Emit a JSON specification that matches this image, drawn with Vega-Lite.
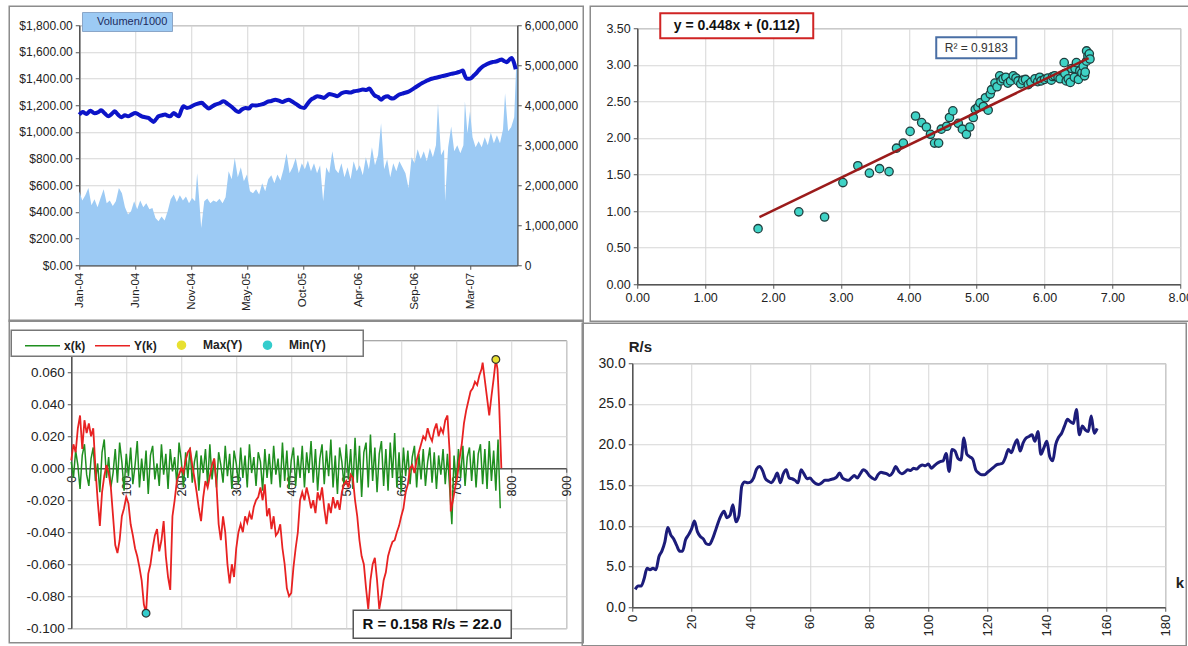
{
  "$schema": "https://vega.github.io/schema/vega-lite/v6.json",
  "background": "white",
  "padding": {"left": 7.25, "top": 4.25, "right": 0, "bottom": 0},
  "columns": 3,
  "align": "none",
  "spacing": {"row": -38, "column": -40},
  "config": {
    "font": "Liberation Sans",
    "view": {"stroke": "#8c8c8c", "strokeWidth": 1},
    "axis": {
      "labelFont": "Liberation Sans", "labelColor": "#222222", "labelFontSize": 12,
      "domainColor": "#555555", "domainWidth": 1.5, "tickColor": "#555555", "tickSize": 4,
      "gridColor": "#d6d6d6", "gridWidth": 1, "labelPadding": 3,
      "labelFlush": false, "labelOverlap": false, "tickCount": 20
    },
    "legend": {"labelFont": "Liberation Sans"},
    "text": {"font": "Liberation Sans"}
  },
  "datasets": {
    "volume": [
      {"d":0,"v":1850000},{"d":6,"v":1620000},{"d":12,"v":1750000},{"d":18,"v":1930000},{"d":24,"v":1500000},{"d":30,"v":1650000},
      {"d":36,"v":1450000},{"d":42,"v":1680000},{"d":48,"v":1900000},{"d":54,"v":1550000},{"d":60,"v":1620000},{"d":66,"v":1480000},
      {"d":72,"v":1600000},{"d":78,"v":1930000},{"d":84,"v":1800000},{"d":90,"v":1450000},{"d":96,"v":1270000},{"d":102,"v":1350000},
      {"d":108,"v":1600000},{"d":114,"v":1400000},{"d":120,"v":1620000},{"d":126,"v":1450000},{"d":132,"v":1550000},{"d":138,"v":1400000},
      {"d":144,"v":1430000},{"d":150,"v":1180000},{"d":156,"v":1100000},{"d":162,"v":1220000},{"d":168,"v":1120000},{"d":174,"v":1350000},
      {"d":180,"v":1650000},{"d":186,"v":1770000},{"d":192,"v":1580000},{"d":198,"v":1750000},{"d":204,"v":1620000},{"d":210,"v":1720000},
      {"d":216,"v":1550000},{"d":222,"v":1680000},{"d":228,"v":1600000},{"d":232,"v":2300000},{"d":236,"v":1650000},{"d":240,"v":930000},
      {"d":246,"v":1600000},{"d":252,"v":1670000},{"d":258,"v":1550000},{"d":264,"v":1620000},{"d":270,"v":1580000},{"d":276,"v":1660000},
      {"d":282,"v":1550000},{"d":288,"v":1700000},{"d":294,"v":2350000},{"d":300,"v":2150000},{"d":306,"v":2680000},{"d":312,"v":2200000},
      {"d":318,"v":2450000},{"d":324,"v":2100000},{"d":330,"v":2270000},{"d":336,"v":1850000},{"d":342,"v":1800000},{"d":348,"v":1900000},
      {"d":354,"v":1770000},{"d":360,"v":2050000},{"d":366,"v":1850000},{"d":372,"v":2150000},{"d":378,"v":2250000},{"d":384,"v":2050000},
      {"d":390,"v":2270000},{"d":396,"v":2120000},{"d":402,"v":2400000},{"d":408,"v":2800000},{"d":414,"v":2300000},{"d":420,"v":2450000},
      {"d":426,"v":2680000},{"d":432,"v":2300000},{"d":438,"v":2550000},{"d":444,"v":2400000},{"d":450,"v":2620000},{"d":456,"v":2350000},
      {"d":462,"v":2550000},{"d":468,"v":2300000},{"d":474,"v":2500000},{"d":480,"v":1600000},{"d":486,"v":2450000},{"d":492,"v":2300000},
      {"d":498,"v":2850000},{"d":504,"v":2400000},{"d":510,"v":2300000},{"d":516,"v":2550000},{"d":522,"v":2200000},{"d":528,"v":2450000},
      {"d":534,"v":2150000},{"d":540,"v":2600000},{"d":546,"v":2350000},{"d":552,"v":2500000},{"d":558,"v":2250000},{"d":564,"v":2700000},
      {"d":570,"v":2400000},{"d":576,"v":2950000},{"d":582,"v":2500000},{"d":588,"v":2750000},{"d":594,"v":3550000},{"d":600,"v":2400000},
      {"d":606,"v":2650000},{"d":612,"v":2200000},{"d":618,"v":2550000},{"d":624,"v":2350000},{"d":630,"v":2600000},{"d":636,"v":2450000},
      {"d":642,"v":2300000},{"d":648,"v":1930000},{"d":654,"v":2700000},{"d":660,"v":2550000},{"d":666,"v":2900000},{"d":672,"v":2650000},
      {"d":678,"v":2850000},{"d":684,"v":2600000},{"d":690,"v":2930000},{"d":696,"v":2700000},{"d":702,"v":3000000},{"d":706,"v":4050000},
      {"d":712,"v":2750000},{"d":718,"v":2900000},{"d":720,"v":1600000},{"d":726,"v":2950000},{"d":732,"v":3470000},{"d":738,"v":2850000},
      {"d":744,"v":3000000},{"d":750,"v":2800000},{"d":756,"v":3000000},{"d":759,"v":4100000},{"d":764,"v":3300000},{"d":769,"v":3850000},
      {"d":774,"v":3200000},{"d":780,"v":2950000},{"d":786,"v":3100000},{"d":792,"v":2950000},{"d":798,"v":3200000},{"d":804,"v":3000000},
      {"d":810,"v":3320000},{"d":816,"v":3050000},{"d":822,"v":3250000},{"d":828,"v":3050000},{"d":834,"v":3400000},{"d":838,"v":4300000},
      {"d":844,"v":3350000},{"d":850,"v":3450000},{"d":856,"v":3700000},{"d":860,"v":5000000},{"d":862,"v":5000000}
    ],
    "price": [
      {"d":0,"p":1130},{"d":7,"p":1150},{"d":14,"p":1135},{"d":22,"p":1158},{"d":30,"p":1140},{"d":38,"p":1150},{"d":43,"p":1162},
      {"d":50,"p":1140},{"d":57,"p":1117},{"d":64,"p":1135},{"d":70,"p":1155},{"d":76,"p":1130},{"d":83,"p":1110},{"d":90,"p":1125},
      {"d":96,"p":1117},{"d":103,"p":1130},{"d":110,"p":1142},{"d":116,"p":1132},{"d":123,"p":1117},{"d":130,"p":1110},{"d":136,"p":1105},
      {"d":141,"p":1090},{"d":146,"p":1075},{"d":151,"p":1095},{"d":156,"p":1117},{"d":163,"p":1125},{"d":169,"p":1130},{"d":174,"p":1122},
      {"d":179,"p":1117},{"d":186,"p":1142},{"d":191,"p":1128},{"d":196,"p":1117},{"d":201,"p":1165},{"d":205,"p":1192},{"d":212,"p":1180},
      {"d":218,"p":1185},{"d":225,"p":1200},{"d":232,"p":1210},{"d":241,"p":1218},{"d":248,"p":1195},{"d":255,"p":1175},{"d":262,"p":1192},
      {"d":268,"p":1205},{"d":276,"p":1215},{"d":284,"p":1230},{"d":292,"p":1210},{"d":301,"p":1185},{"d":308,"p":1160},{"d":314,"p":1150},
      {"d":320,"p":1168},{"d":327,"p":1180},{"d":334,"p":1175},{"d":340,"p":1200},{"d":348,"p":1198},{"d":357,"p":1205},{"d":364,"p":1212},
      {"d":370,"p":1225},{"d":378,"p":1232},{"d":386,"p":1242},{"d":393,"p":1235},{"d":400,"p":1225},{"d":406,"p":1235},{"d":412,"p":1242},
      {"d":418,"p":1230},{"d":423,"p":1218},{"d":430,"p":1200},{"d":436,"p":1185},{"d":443,"p":1180},{"d":449,"p":1210},{"d":456,"p":1242},
      {"d":462,"p":1255},{"d":469,"p":1268},{"d":476,"p":1262},{"d":482,"p":1255},{"d":487,"p":1270},{"d":492,"p":1285},{"d":500,"p":1278},
      {"d":508,"p":1268},{"d":516,"p":1290},{"d":525,"p":1300},{"d":533,"p":1295},{"d":541,"p":1305},{"d":550,"p":1310},{"d":558,"p":1318},
      {"d":565,"p":1315},{"d":571,"p":1325},{"d":576,"p":1300},{"d":581,"p":1275},{"d":588,"p":1262},{"d":594,"p":1242},{"d":600,"p":1260},
      {"d":607,"p":1268},{"d":612,"p":1255},{"d":617,"p":1250},{"d":624,"p":1265},{"d":630,"p":1280},{"d":638,"p":1290},{"d":647,"p":1300},
      {"d":654,"p":1315},{"d":660,"p":1330},{"d":668,"p":1350},{"d":676,"p":1368},{"d":682,"p":1380},{"d":689,"p":1393},{"d":697,"p":1402},
      {"d":706,"p":1410},{"d":714,"p":1418},{"d":722,"p":1425},{"d":732,"p":1435},{"d":742,"p":1443},{"d":749,"p":1452},{"d":755,"p":1460},
      {"d":758,"p":1430},{"d":762,"p":1400},{"d":767,"p":1398},{"d":772,"p":1405},{"d":777,"p":1425},{"d":782,"p":1443},{"d":788,"p":1470},
      {"d":795,"p":1493},{"d":801,"p":1505},{"d":808,"p":1518},{"d":815,"p":1525},{"d":822,"p":1530},{"d":827,"p":1538},{"d":831,"p":1543},
      {"d":836,"p":1532},{"d":841,"p":1523},{"d":846,"p":1540},{"d":851,"p":1555},{"d":855,"p":1525},{"d":859,"p":1470}
    ],
    "scatter": [
      {"x":1.78,"y":0.76},{"x":2.38,"y":0.99},{"x":2.76,"y":0.92},{"x":3.03,"y":1.39},{"x":3.25,"y":1.62},{"x":3.42,"y":1.52},
      {"x":3.57,"y":1.58},{"x":3.71,"y":1.54},{"x":3.82,"y":1.86},{"x":3.92,"y":1.93},{"x":4.02,"y":2.09},{"x":4.10,"y":2.30},
      {"x":4.19,"y":2.21},{"x":4.26,"y":2.15},{"x":4.32,"y":2.05},{"x":4.38,"y":1.93},{"x":4.44,"y":1.93},{"x":4.48,"y":2.12},
      {"x":4.56,"y":2.16},{"x":4.60,"y":2.28},{"x":4.65,"y":2.37},{"x":4.73,"y":2.20},{"x":4.79,"y":2.12},{"x":4.85,"y":2.05},
      {"x":4.90,"y":2.15},{"x":4.95,"y":2.28},{"x":4.98,"y":2.39},{"x":5.02,"y":2.42},{"x":5.05,"y":2.48},{"x":5.10,"y":2.43},
      {"x":5.13,"y":2.55},{"x":5.17,"y":2.38},{"x":5.20,"y":2.60},{"x":5.22,"y":2.66},{"x":5.27,"y":2.75},{"x":5.30,"y":2.70},
      {"x":5.34,"y":2.85},{"x":5.36,"y":2.78},{"x":5.39,"y":2.81},{"x":5.43,"y":2.83},{"x":5.46,"y":2.75},{"x":5.50,"y":2.78},
      {"x":5.54,"y":2.85},{"x":5.58,"y":2.82},{"x":5.61,"y":2.78},{"x":5.65,"y":2.74},{"x":5.68,"y":2.79},{"x":5.72,"y":2.80},
      {"x":5.76,"y":2.73},{"x":5.80,"y":2.76},{"x":5.86,"y":2.81},{"x":5.90,"y":2.77},{"x":5.93,"y":2.83},{"x":5.95,"y":2.78},
      {"x":6.00,"y":2.80},{"x":6.05,"y":2.82},{"x":6.10,"y":2.79},{"x":6.12,"y":2.84},{"x":6.15,"y":2.85},{"x":6.20,"y":2.83},
      {"x":6.23,"y":2.81},{"x":6.29,"y":3.03},{"x":6.30,"y":2.88},{"x":6.32,"y":2.78},{"x":6.35,"y":2.81},{"x":6.38,"y":2.76},
      {"x":6.40,"y":2.95},{"x":6.44,"y":2.83},{"x":6.45,"y":2.95},{"x":6.47,"y":3.03},{"x":6.50,"y":2.80},{"x":6.52,"y":2.92},
      {"x":6.55,"y":2.89},{"x":6.57,"y":2.98},{"x":6.59,"y":2.85},{"x":6.60,"y":2.90},{"x":6.62,"y":3.05},{"x":6.62,"y":3.19},
      {"x":6.64,"y":3.12},{"x":6.66,"y":3.15},{"x":6.67,"y":3.08}
    ],
    "trend": [{"x":1.8,"y":0.918},{"x":6.65,"y":3.091}],
    "xk": [
      {"k":0,"xk":0.004},{"k":4,"xk":-0.006},{"k":8,"xk":0.011},{"k":12,"xk":0.002},{"k":16,"xk":-0.013},{"k":20,"xk":0.008},
      {"k":24,"xk":0.015},{"k":28,"xk":-0.004},{"k":32,"xk":-0.011},{"k":36,"xk":0.006},{"k":40,"xk":0.013},{"k":44,"xk":-0.008},
      {"k":48,"xk":0.003},{"k":52,"xk":-0.015},{"k":56,"xk":0.010},{"k":60,"xk":0.018},{"k":64,"xk":-0.006},{"k":68,"xk":0.007},
      {"k":72,"xk":-0.012},{"k":76,"xk":-0.003},{"k":80,"xk":0.012},{"k":84,"xk":-0.009},{"k":88,"xk":0.016},{"k":92,"xk":0.004},
      {"k":96,"xk":-0.014},{"k":100,"xk":0.009},{"k":104,"xk":-0.005},{"k":108,"xk":0.013},{"k":112,"xk":-0.010},{"k":116,"xk":0.002},
      {"k":120,"xk":0.017},{"k":124,"xk":-0.012},{"k":128,"xk":0.006},{"k":132,"xk":-0.008},{"k":136,"xk":0.011},{"k":140,"xk":-0.016},
      {"k":144,"xk":0.008},{"k":148,"xk":0.014},{"k":152,"xk":-0.007},{"k":156,"xk":0.003},{"k":160,"xk":-0.011},{"k":164,"xk":0.015},
      {"k":168,"xk":-0.004},{"k":172,"xk":0.009},{"k":176,"xk":-0.013},{"k":180,"xk":0.012},{"k":184,"xk":-0.002},{"k":188,"xk":0.007},
      {"k":192,"xk":-0.010},{"k":196,"xk":0.016},{"k":200,"xk":0.005},{"k":204,"xk":-0.012},{"k":208,"xk":0.010},{"k":212,"xk":-0.006},
      {"k":216,"xk":0.013},{"k":220,"xk":-0.009},{"k":224,"xk":0.004},{"k":228,"xk":0.011},{"k":232,"xk":-0.014},{"k":236,"xk":0.008},
      {"k":240,"xk":-0.003},{"k":244,"xk":0.012},{"k":248,"xk":-0.010},{"k":252,"xk":0.015},{"k":256,"xk":-0.007},{"k":260,"xk":0.006},
      {"k":264,"xk":-0.012},{"k":268,"xk":0.010},{"k":272,"xk":0.002},{"k":276,"xk":-0.009},{"k":280,"xk":0.014},{"k":284,"xk":-0.005},
      {"k":288,"xk":0.009},{"k":292,"xk":-0.013},{"k":296,"xk":0.011},{"k":300,"xk":0.003},{"k":304,"xk":-0.010},{"k":308,"xk":0.013},
      {"k":312,"xk":-0.006},{"k":316,"xk":0.008},{"k":320,"xk":-0.012},{"k":324,"xk":0.015},{"k":328,"xk":-0.003},{"k":332,"xk":0.007},
      {"k":336,"xk":-0.011},{"k":340,"xk":0.010},{"k":344,"xk":0.004},{"k":348,"xk":-0.014},{"k":352,"xk":0.012},{"k":356,"xk":-0.006},
      {"k":360,"xk":0.009},{"k":364,"xk":-0.010},{"k":368,"xk":0.014},{"k":372,"xk":-0.004},{"k":376,"xk":0.006},{"k":380,"xk":-0.012},
      {"k":384,"xk":0.016},{"k":388,"xk":-0.008},{"k":392,"xk":0.011},{"k":396,"xk":-0.013},{"k":400,"xk":0.005},{"k":404,"xk":0.013},
      {"k":408,"xk":-0.011},{"k":412,"xk":0.008},{"k":416,"xk":-0.006},{"k":420,"xk":0.014},{"k":424,"xk":-0.012},{"k":428,"xk":0.010},
      {"k":432,"xk":-0.003},{"k":436,"xk":0.017},{"k":440,"xk":-0.009},{"k":444,"xk":0.012},{"k":448,"xk":-0.014},{"k":452,"xk":0.006},
      {"k":456,"xk":0.015},{"k":460,"xk":-0.010},{"k":464,"xk":0.011},{"k":468,"xk":-0.005},{"k":472,"xk":0.018},{"k":476,"xk":-0.012},
      {"k":480,"xk":0.008},{"k":484,"xk":-0.016},{"k":488,"xk":0.013},{"k":492,"xk":0.004},{"k":496,"xk":-0.011},{"k":500,"xk":0.015},
      {"k":504,"xk":-0.007},{"k":508,"xk":0.012},{"k":512,"xk":-0.013},{"k":516,"xk":0.019},{"k":520,"xk":-0.009},{"k":524,"xk":0.014},
      {"k":528,"xk":-0.018},{"k":532,"xk":0.010},{"k":536,"xk":0.016},{"k":540,"xk":-0.012},{"k":544,"xk":0.021},{"k":548,"xk":-0.008},
      {"k":552,"xk":0.013},{"k":556,"xk":-0.015},{"k":560,"xk":0.009},{"k":564,"xk":0.017},{"k":568,"xk":-0.011},{"k":572,"xk":0.012},
      {"k":576,"xk":-0.014},{"k":580,"xk":0.016},{"k":584,"xk":-0.006},{"k":588,"xk":0.022},{"k":592,"xk":-0.012},{"k":596,"xk":0.010},
      {"k":600,"xk":-0.015},{"k":604,"xk":0.013},{"k":608,"xk":-0.005},{"k":612,"xk":0.011},{"k":616,"xk":-0.010},{"k":620,"xk":0.007},
      {"k":624,"xk":0.014},{"k":628,"xk":-0.012},{"k":632,"xk":0.009},{"k":636,"xk":-0.007},{"k":640,"xk":0.012},{"k":644,"xk":-0.011},
      {"k":648,"xk":0.004},{"k":652,"xk":0.013},{"k":656,"xk":-0.009},{"k":660,"xk":0.010},{"k":664,"xk":-0.013},{"k":668,"xk":0.008},
      {"k":672,"xk":-0.004},{"k":676,"xk":0.012},{"k":680,"xk":-0.010},{"k":684,"xk":0.009},{"k":688,"xk":-0.012},{"k":692,"xk":-0.035},
      {"k":696,"xk":0.008},{"k":700,"xk":-0.010},{"k":704,"xk":0.012},{"k":708,"xk":-0.006},{"k":712,"xk":0.014},{"k":716,"xk":-0.011},
      {"k":720,"xk":0.007},{"k":724,"xk":0.013},{"k":728,"xk":-0.008},{"k":732,"xk":0.011},{"k":736,"xk":-0.012},{"k":740,"xk":0.009},
      {"k":744,"xk":0.015},{"k":748,"xk":-0.010},{"k":752,"xk":0.012},{"k":756,"xk":-0.013},{"k":760,"xk":0.017},{"k":764,"xk":-0.008},
      {"k":768,"xk":0.011},{"k":772,"xk":-0.014},{"k":776,"xk":0.018},{"k":780,"xk":-0.025}
    ],
    "yk": [
      {"k":0,"yk":0.005},{"k":4,"yk":0.015},{"k":8,"yk":0.01},{"k":12,"yk":0.025},{"k":16,"yk":0.033},{"k":20,"yk":0.012},
      {"k":24,"yk":0.03},{"k":28,"yk":0.022},{"k":32,"yk":0.028},{"k":36,"yk":0.02},{"k":40,"yk":0.025},{"k":44,"yk":0.0},
      {"k":48,"yk":-0.02},{"k":52,"yk":-0.036},{"k":56,"yk":-0.015},{"k":60,"yk":-0.005},{"k":64,"yk":0.002},{"k":68,"yk":-0.003},
      {"k":72,"yk":-0.012},{"k":76,"yk":-0.03},{"k":80,"yk":-0.048},{"k":84,"yk":-0.053},{"k":88,"yk":-0.045},{"k":92,"yk":-0.03},
      {"k":96,"yk":-0.025},{"k":100,"yk":-0.018},{"k":104,"yk":-0.022},{"k":108,"yk":-0.035},{"k":112,"yk":-0.042},{"k":116,"yk":-0.05},
      {"k":120,"yk":-0.055},{"k":124,"yk":-0.062},{"k":128,"yk":-0.07},{"k":132,"yk":-0.085},{"k":136,"yk":-0.0906},{"k":140,"yk":-0.066},
      {"k":144,"yk":-0.06},{"k":148,"yk":-0.05},{"k":152,"yk":-0.042},{"k":156,"yk":-0.038},{"k":160,"yk":-0.052},{"k":164,"yk":-0.045},
      {"k":168,"yk":-0.033},{"k":172,"yk":-0.055},{"k":176,"yk":-0.068},{"k":180,"yk":-0.076},{"k":184,"yk":-0.03},{"k":188,"yk":-0.02},
      {"k":192,"yk":-0.008},{"k":196,"yk":-0.004},{"k":200,"yk":0.0},{"k":204,"yk":-0.003},{"k":208,"yk":0.005},{"k":212,"yk":0.01},
      {"k":216,"yk":0.012},{"k":220,"yk":0.002},{"k":224,"yk":-0.006},{"k":228,"yk":-0.015},{"k":232,"yk":-0.025},{"k":236,"yk":-0.033},
      {"k":240,"yk":-0.018},{"k":244,"yk":-0.008},{"k":248,"yk":-0.012},{"k":252,"yk":-0.005},{"k":256,"yk":0.002},{"k":260,"yk":0.006},
      {"k":264,"yk":-0.01},{"k":268,"yk":-0.035},{"k":272,"yk":-0.045},{"k":276,"yk":-0.03},{"k":280,"yk":-0.04},{"k":284,"yk":-0.06},
      {"k":288,"yk":-0.072},{"k":292,"yk":-0.06},{"k":296,"yk":-0.068},{"k":300,"yk":-0.05},{"k":304,"yk":-0.04},{"k":308,"yk":-0.035},
      {"k":312,"yk":-0.04},{"k":316,"yk":-0.03},{"k":320,"yk":-0.034},{"k":324,"yk":-0.028},{"k":328,"yk":-0.032},{"k":332,"yk":-0.024},
      {"k":336,"yk":-0.02},{"k":340,"yk":-0.018},{"k":344,"yk":-0.012},{"k":348,"yk":-0.02},{"k":352,"yk":-0.01},{"k":356,"yk":-0.03},
      {"k":360,"yk":-0.025},{"k":364,"yk":-0.038},{"k":368,"yk":-0.03},{"k":372,"yk":-0.042},{"k":376,"yk":-0.04},{"k":380,"yk":-0.035},
      {"k":384,"yk":-0.05},{"k":388,"yk":-0.06},{"k":392,"yk":-0.075},{"k":396,"yk":-0.08},{"k":400,"yk":-0.078},{"k":404,"yk":-0.062},
      {"k":408,"yk":-0.05},{"k":412,"yk":-0.04},{"k":416,"yk":-0.02},{"k":420,"yk":-0.015},{"k":424,"yk":-0.02},{"k":428,"yk":-0.012},
      {"k":432,"yk":-0.018},{"k":436,"yk":-0.025},{"k":440,"yk":-0.02},{"k":444,"yk":-0.028},{"k":448,"yk":-0.015},{"k":452,"yk":-0.02},
      {"k":456,"yk":-0.012},{"k":460,"yk":-0.025},{"k":464,"yk":-0.035},{"k":468,"yk":-0.022},{"k":472,"yk":-0.028},{"k":476,"yk":-0.018},
      {"k":480,"yk":-0.025},{"k":484,"yk":-0.02},{"k":488,"yk":-0.026},{"k":492,"yk":-0.015},{"k":496,"yk":-0.01},{"k":500,"yk":-0.008},
      {"k":504,"yk":-0.012},{"k":508,"yk":-0.004},{"k":512,"yk":-0.006},{"k":516,"yk":-0.02},{"k":520,"yk":-0.03},{"k":524,"yk":-0.045},
      {"k":528,"yk":-0.055},{"k":532,"yk":-0.06},{"k":536,"yk":-0.075},{"k":540,"yk":-0.088},{"k":544,"yk":-0.07},{"k":548,"yk":-0.06},
      {"k":552,"yk":-0.056},{"k":556,"yk":-0.07},{"k":560,"yk":-0.088},{"k":564,"yk":-0.08},{"k":568,"yk":-0.07},{"k":572,"yk":-0.065},
      {"k":576,"yk":-0.055},{"k":580,"yk":-0.05},{"k":584,"yk":-0.046},{"k":588,"yk":-0.045},{"k":592,"yk":-0.04},{"k":596,"yk":-0.036},
      {"k":600,"yk":-0.03},{"k":604,"yk":-0.025},{"k":608,"yk":-0.015},{"k":612,"yk":-0.01},{"k":616,"yk":0.0},{"k":620,"yk":0.002},
      {"k":624,"yk":-0.003},{"k":628,"yk":0.005},{"k":632,"yk":0.01},{"k":636,"yk":0.015},{"k":640,"yk":0.02},{"k":644,"yk":0.018},
      {"k":648,"yk":0.025},{"k":652,"yk":0.02},{"k":656,"yk":0.017},{"k":660,"yk":0.024},{"k":664,"yk":0.028},{"k":668,"yk":0.02},
      {"k":672,"yk":0.025},{"k":676,"yk":0.022},{"k":680,"yk":0.03},{"k":684,"yk":0.033},{"k":688,"yk":0.01},{"k":690,"yk":-0.027},
      {"k":694,"yk":-0.02},{"k":698,"yk":-0.012},{"k":702,"yk":-0.005},{"k":706,"yk":0.006},{"k":710,"yk":0.015},{"k":714,"yk":0.028},
      {"k":718,"yk":0.036},{"k":722,"yk":0.042},{"k":726,"yk":0.048},{"k":730,"yk":0.05},{"k":734,"yk":0.054},{"k":738,"yk":0.052},
      {"k":742,"yk":0.058},{"k":746,"yk":0.062},{"k":748,"yk":0.066},{"k":752,"yk":0.055},{"k":756,"yk":0.044},{"k":760,"yk":0.033},
      {"k":764,"yk":0.045},{"k":768,"yk":0.056},{"k":772,"yk":0.068},{"k":775,"yk":0.062},{"k":778,"yk":0.04},{"k":781,"yk":0.01},
      {"k":782,"yk":0.0}
    ],
    "extremes": [
      {"k":136,"yk":-0.0906,"s":"Min(Y)"},
      {"k":772,"yk":0.068,"s":"Max(Y)"}
    ],
    "rs": [
      {"k":1,"rs":2.2},{"k":2,"rs":2.6},{"k":3,"rs":2.6},{"k":4,"rs":3.5},{"k":5,"rs":4.8},{"k":6,"rs":4.6},{"k":7,"rs":4.8},
      {"k":8,"rs":4.6},{"k":9,"rs":6.2},{"k":10,"rs":6.9},{"k":11,"rs":8.0},{"k":12,"rs":9.8},{"k":13,"rs":8.9},{"k":14,"rs":8.4},
      {"k":15,"rs":7.6},{"k":16,"rs":6.9},{"k":17,"rs":6.9},{"k":18,"rs":8.3},{"k":19,"rs":8.9},{"k":20,"rs":9.6},{"k":21,"rs":10.6},
      {"k":22,"rs":9.3},{"k":23,"rs":8.7},{"k":24,"rs":8.4},{"k":25,"rs":7.8},{"k":26,"rs":7.7},{"k":27,"rs":8.3},{"k":28,"rs":9.3},
      {"k":29,"rs":10.4},{"k":30,"rs":11.3},{"k":31,"rs":11.8},{"k":32,"rs":11.0},{"k":33,"rs":11.3},{"k":34,"rs":12.6},{"k":35,"rs":10.5},
      {"k":36,"rs":11.2},{"k":37,"rs":14.9},{"k":38,"rs":15.4},{"k":39,"rs":15.3},{"k":40,"rs":15.4},{"k":41,"rs":15.9},{"k":42,"rs":17.0},
      {"k":43,"rs":17.3},{"k":44,"rs":16.8},{"k":45,"rs":15.8},{"k":46,"rs":15.5},{"k":47,"rs":15.3},{"k":48,"rs":15.8},{"k":49,"rs":16.5},
      {"k":50,"rs":15.3},{"k":51,"rs":16.4},{"k":52,"rs":16.9},{"k":53,"rs":15.9},{"k":54,"rs":15.8},{"k":55,"rs":15.6},{"k":56,"rs":15.3},
      {"k":57,"rs":16.9},{"k":58,"rs":16.4},{"k":59,"rs":15.8},{"k":60,"rs":15.9},{"k":61,"rs":15.5},{"k":62,"rs":15.2},{"k":63,"rs":15.1},
      {"k":64,"rs":15.3},{"k":65,"rs":15.6},{"k":66,"rs":15.6},{"k":67,"rs":15.7},{"k":68,"rs":15.8},{"k":69,"rs":16.0},{"k":70,"rs":16.5},
      {"k":71,"rs":15.9},{"k":72,"rs":15.7},{"k":73,"rs":15.6},{"k":74,"rs":15.9},{"k":75,"rs":16.2},{"k":76,"rs":15.9},{"k":77,"rs":16.4},
      {"k":78,"rs":16.9},{"k":79,"rs":16.7},{"k":80,"rs":16.2},{"k":81,"rs":15.9},{"k":82,"rs":15.7},{"k":83,"rs":16.3},{"k":84,"rs":16.6},
      {"k":85,"rs":16.5},{"k":86,"rs":16.4},{"k":87,"rs":16.2},{"k":88,"rs":16.6},{"k":89,"rs":17.3},{"k":90,"rs":16.7},{"k":91,"rs":16.4},
      {"k":92,"rs":16.6},{"k":93,"rs":16.9},{"k":94,"rs":16.8},{"k":95,"rs":17.1},{"k":96,"rs":17.0},{"k":97,"rs":17.3},{"k":98,"rs":17.5},
      {"k":99,"rs":17.4},{"k":100,"rs":17.6},{"k":101,"rs":17.1},{"k":102,"rs":17.4},{"k":103,"rs":17.7},{"k":104,"rs":17.9},{"k":105,"rs":18.0},
      {"k":106,"rs":18.9},{"k":107,"rs":16.7},{"k":108,"rs":19.4},{"k":109,"rs":19.2},{"k":110,"rs":18.3},{"k":111,"rs":18.1},{"k":112,"rs":20.8},
      {"k":113,"rs":18.8},{"k":114,"rs":18.5},{"k":115,"rs":18.2},{"k":116,"rs":16.9},{"k":117,"rs":16.5},{"k":118,"rs":16.3},{"k":119,"rs":16.3},
      {"k":120,"rs":16.6},{"k":121,"rs":16.9},{"k":122,"rs":17.2},{"k":123,"rs":17.5},{"k":124,"rs":17.6},{"k":125,"rs":17.7},{"k":126,"rs":18.4},
      {"k":127,"rs":19.4},{"k":128,"rs":19.0},{"k":129,"rs":19.9},{"k":130,"rs":20.6},{"k":131,"rs":19.2},{"k":132,"rs":20.2},{"k":133,"rs":20.8},
      {"k":134,"rs":21.0},{"k":135,"rs":21.2},{"k":136,"rs":20.4},{"k":137,"rs":21.6},{"k":138,"rs":18.8},{"k":139,"rs":19.6},{"k":140,"rs":20.4},
      {"k":141,"rs":18.5},{"k":142,"rs":18.0},{"k":143,"rs":20.0},{"k":144,"rs":20.9},{"k":145,"rs":21.4},{"k":146,"rs":22.3},{"k":147,"rs":23.1},
      {"k":148,"rs":22.8},{"k":149,"rs":22.6},{"k":150,"rs":24.3},{"k":151,"rs":21.2},{"k":152,"rs":22.3},{"k":153,"rs":21.8},{"k":154,"rs":21.6},
      {"k":155,"rs":23.5},{"k":156,"rs":21.4},{"k":157,"rs":22.0}
    ]
  },
  "concat": [
    {"width": 1, "height": 1, "view": {"stroke": null}, "data": {"values": []}, "mark": {"type": "point", "opacity": 0}, "encoding": {}},
    {"width": 1, "height": 1, "view": {"stroke": null}, "data": {"values": []}, "mark": {"type": "point", "opacity": 0}, "encoding": {}},
    {"width": 1, "height": 1, "view": {"stroke": null}, "data": {"values": []}, "mark": {"type": "point", "opacity": 0}, "encoding": {}},
    {"width": 1, "height": 1, "view": {"stroke": null}, "data": {"values": []}, "mark": {"type": "point", "opacity": 0}, "encoding": {}},
    {
      "width": 438,
      "height": 240,
      "layer": [
        {
          "data": {"name": "volume"},
          "mark": {"type": "area", "interpolate": "linear"},
          "encoding": {
            "x": {
              "field": "d", "type": "quantitative",
              "scale": {"domain": [0, 862], "nice": false, "zero": false},
              "axis": {
                "title": null, "values": [0, 110, 220, 330, 440, 550, 660, 770],
                "labelExpr": "datum.value == 0 ? 'Jan-04' : datum.value == 110 ? 'Jun-04' : datum.value == 220 ? 'Nov-04' : datum.value == 330 ? 'May-05' : datum.value == 440 ? 'Oct-05' : datum.value == 550 ? 'Apr-06' : datum.value == 660 ? 'Sep-06' : 'Mar-07'",
                "labelAngle": 270, "labelAlign": "right", "labelBaseline": "middle",
                "labelFontSize": 11.5, "grid": true, "labelOverlap": false, "tickCount": 20
              }
            },
            "y": {
              "field": "v", "type": "quantitative",
              "scale": {"domain": [0, 6000000], "nice": false},
              "axis": {
                "orient": "right", "title": null,
                "values": [0, 1000000, 2000000, 3000000, 4000000, 5000000, 6000000],
                "format": ",d", "grid": false, "labelFontSize": 12, "labelOverlap": false, "tickCount": 20
              }
            },
            "fill": {
              "datum": "Volumen/1000", "type": "nominal",
              "scale": {"range": ["#9ccaf4"]},
              "legend": {
                "orient": "none", "legendX": 35.75, "legendY": -29.25, "title": null,
                "symbolSize": 0, "symbolStrokeWidth": 0, "symbolOpacity": 0, "labelOffset": 0,
                "labelFontSize": 11, "labelColor": "#1b2a5e",
                "fillColor": "#9ccaf4", "strokeColor": "#8aa6c8", "padding": 4
              }
            }
          }
        },
        {
          "layer": [
            {
              "data": {"values": [{}]},
              "mark": {"type": "rect", "opacity": 0},
              "encoding": {
                "x": {"datum": -137.8}, "x2": {"datum": 1001.7},
                "y": {"datum": 1942.5}, "y2": {"datum": -532.5}
              }
            },
            {
              "data": {"values": [{}]},
              "mark": {"type": "rect", "fill": null, "stroke": "#8c8c8c", "strokeWidth": 1.5},
              "encoding": {
                "x": {"datum": -137.8}, "x2": {"datum": 991.9},
                "y": {"datum": 1942.5}, "y2": {"datum": -420}
              }
            },
            {
              "data": {"name": "price"},
              "mark": {"type": "line", "color": "#0c14c8", "strokeWidth": 4, "interpolate": "monotone"},
              "encoding": {
                "x": {"field": "d", "type": "quantitative"},
                "y": {
                  "field": "p", "type": "quantitative",
                  "scale": {"domain": [0, 1800], "nice": false},
                  "axis": {
                    "orient": "left", "title": null,
                    "values": [0, 200, 400, 600, 800, 1000, 1200, 1400, 1600, 1800],
                    "format": "$,.2f", "grid": true, "labelFontSize": 12, "labelOverlap": false, "tickCount": 20
                  }
                }
              }
            }
          ]
        }
      ],
      "resolve": {"scale": {"y": "independent"}}
    },
    {
      "width": 543,
      "height": 256,
      "layer": [
        {
          "data": {"values": [{}]},
          "mark": {"type": "rect", "opacity": 0},
          "encoding": {
            "x": {"datum": -0.987}, "x2": {"datum": 8.206},
            "y": {"datum": 3.801}, "y2": {"datum": -0.7111}
          }
        },
        {
          "data": {"values": [{}]},
          "mark": {"type": "rect", "fill": null, "stroke": "#8c8c8c", "strokeWidth": 1.5},
          "encoding": {
            "x": {"datum": -0.6925}, "x2": {"datum": 8.206},
            "y": {"datum": 3.801}, "y2": {"datum": -0.506}
          }
        },
        {
          "data": {"name": "scatter"},
          "mark": {"type": "point", "filled": true, "size": 70, "fill": "#3fd3c6", "stroke": "#1f3f3f", "strokeWidth": 1.3, "opacity": 1},
          "encoding": {
            "x": {
              "field": "x", "type": "quantitative",
              "scale": {"domain": [0, 8], "nice": false},
              "axis": {"title": null, "values": [0, 1, 2, 3, 4, 5, 6, 7, 8], "format": ".2f", "grid": true, "labelFontSize": 12.5, "labelOverlap": false, "tickCount": 20}
            },
            "y": {
              "field": "y", "type": "quantitative",
              "scale": {"domain": [0, 3.5], "nice": false},
              "axis": {"title": null, "values": [0, 0.5, 1, 1.5, 2, 2.5, 3, 3.5], "format": ".2f", "grid": true, "labelFontSize": 12.5, "labelOverlap": false, "tickCount": 20}
            }
          }
        },
        {
          "data": {"name": "trend"},
          "mark": {"type": "line", "color": "#9b1b1b", "strokeWidth": 2.5},
          "encoding": {
            "x": {"field": "x", "type": "quantitative"},
            "y": {"field": "y", "type": "quantitative"}
          }
        },
        {
          "data": {"values": [{}]},
          "mark": {"type": "rect", "fill": "white", "stroke": "#d02424", "strokeWidth": 2},
          "encoding": {
            "x": {"datum": 0.339}, "x2": {"datum": 2.593},
            "y": {"datum": 3.705}, "y2": {"datum": 3.363}
          }
        },
        {
          "data": {"values": [{}]},
          "mark": {"type": "text", "text": "y = 0.448x + (0.112)", "fontSize": 14, "fontWeight": "bold", "color": "#111111", "align": "center", "baseline": "middle"},
          "encoding": {"x": {"datum": 1.466}, "y": {"datum": 3.534}}
        },
        {
          "data": {"values": [{}]},
          "mark": {"type": "rect", "fill": "white", "stroke": "#4a6fa5", "strokeWidth": 2},
          "encoding": {
            "x": {"datum": 4.405}, "x2": {"datum": 5.584},
            "y": {"datum": 3.377}, "y2": {"datum": 3.09}
          }
        },
        {
          "data": {"values": [{}]},
          "mark": {"type": "text", "text": "R² = 0.9183", "fontSize": 12, "color": "#333333", "align": "center", "baseline": "middle"},
          "encoding": {"x": {"datum": 4.995}, "y": {"datum": 3.234}}
        }
      ]
    },
    {"width": 1, "height": 1, "view": {"stroke": null}, "data": {"values": []}, "mark": {"type": "point", "opacity": 0}, "encoding": {}},
    {
      "width": 495,
      "height": 288,
      "layer": [
        {
          "data": {"values": [{}]},
          "mark": {"type": "rect", "opacity": 0},
          "encoding": {
            "x": {"datum": -112.7}, "x2": {"datum": 961.8},
            "y": {"datum": 0.105}, "y2": {"datum": -0.1091}
          }
        },
        {
          "data": {"values": [{}]},
          "mark": {"type": "rect", "fill": null, "stroke": "#8c8c8c", "strokeWidth": 1.5},
          "encoding": {
            "x": {"datum": -112.7}, "x2": {"datum": 930.9},
            "y": {"datum": 0.0925}, "y2": {"datum": -0.1091}
          }
        },
        {
          "data": {"name": "xk"},
          "mark": {"type": "line", "strokeWidth": 1.5},
          "encoding": {
            "x": {
              "field": "k", "type": "quantitative",
              "scale": {"domain": [0, 900], "nice": false},
              "axis": {
                "title": null, "values": [0, 100, 200, 300, 400, 500, 600, 700, 800, 900],
                "offset": -160, "labelAngle": 270, "labelAlign": "right", "labelBaseline": "middle",
                "labelFontSize": 12.5, "grid": true, "labelOverlap": false, "tickCount": 20
              }
            },
            "y": {
              "field": "xk", "type": "quantitative",
              "scale": {"domain": [-0.1, 0.08], "nice": false},
              "axis": {
                "title": null, "values": [-0.1, -0.08, -0.06, -0.04, -0.02, 0, 0.02, 0.04, 0.06],
                "labelExpr": "replace(format(datum.value, '.3f'), '\u2212', '-')",
                "grid": true, "labelFontSize": 13.5, "labelOverlap": false, "tickCount": 20
              }
            },
            "color": {
              "datum": "x(k)", "type": "nominal", "title": null,
              "scale": {"domain": ["x(k)", "Y(k)", "Max(Y)", "Min(Y)"], "range": ["#1f8f1f", "#e82222", "#e8e030", "#33cccc"]},
              "legend": {
                "orient": "none", "legendX": -22.25, "legendY": 285.25, "direction": "horizontal", "title": null,
                "padding": 0,
                "symbolType": "stroke", "symbolSize": 1225, "symbolStrokeWidth": 1.5,
                "labelFontSize": 12, "labelFontWeight": "bold", "labelColor": "#222222",
                "labelOffset": 3, "columnPadding": 6,
                "encode": {
                  "symbols": {
                    "update": {
                      "size": {"value": 1225},
                      "shape": {"signal": "datum.value == 'Max(Y)' || datum.value == 'Min(Y)' ? 'M-0.23,0A0.23,0.23,0,1,0,0.23,0A0.23,0.23,0,1,0,-0.23,0Z' : 'stroke'"},
                      "fill": {"signal": "datum.value == 'Max(Y)' ? '#e8e030' : datum.value == 'Min(Y)' ? '#33cccc' : 'transparent'"},
                      "stroke": {"signal": "datum.value == 'x(k)' ? '#1f8f1f' : datum.value == 'Y(k)' ? '#e82222' : '#333333'"}
                    }
                  }
                }
              }
            }
          }
        },
        {
          "data": {"name": "yk"},
          "mark": {"type": "line", "strokeWidth": 1.8},
          "encoding": {
            "x": {"field": "k", "type": "quantitative"},
            "y": {"field": "yk", "type": "quantitative"},
            "color": {"datum": "Y(k)", "type": "nominal", "title": null}
          }
        },
        {
          "data": {"name": "extremes"},
          "mark": {"type": "point", "filled": true, "size": 60, "stroke": "#333333", "strokeWidth": 1.2, "opacity": 1},
          "encoding": {
            "x": {"field": "k", "type": "quantitative"},
            "y": {"field": "yk", "type": "quantitative"},
            "color": {"field": "s", "type": "nominal", "title": null}
          }
        },
        {
          "data": {"values": [{}]},
          "mark": {"type": "rect", "fill": "white", "stroke": "#777777", "strokeWidth": 1.5},
          "encoding": {
            "x": {"datum": -109.1}, "x2": {"datum": 530.9},
            "y": {"datum": 0.08625}, "y2": {"datum": 0.07}
          }
        },
        {
          "data": {"values": [{}]},
          "mark": {"type": "rect", "fill": "white", "stroke": "#555555", "strokeWidth": 1.5},
          "encoding": {
            "x": {"datum": 512.7}, "x2": {"datum": 800},
            "y": {"datum": -0.0888}, "y2": {"datum": -0.10625}
          }
        },
        {
          "data": {"values": [{}]},
          "mark": {"type": "text", "text": "R = 0.158  R/s = 22.0", "fontSize": 15, "fontWeight": "bold", "color": "#111111", "align": "center", "baseline": "middle"},
          "encoding": {"x": {"datum": 656}, "y": {"datum": -0.0975}}
        }
      ]
    },
    {
      "width": 533,
      "height": 244,
      "layer": [
        {
          "data": {"values": [{}]},
          "mark": {"type": "rect", "opacity": 0},
          "encoding": {
            "x": {"datum": -23.64}, "x2": {"datum": 187.09},
            "y": {"datum": 37.38}, "y2": {"datum": -4.73}
          }
        },
        {
          "data": {"values": [{}]},
          "mark": {"type": "rect", "fill": null, "stroke": "#8c8c8c", "strokeWidth": 1.5},
          "encoding": {
            "x": {"datum": -16.89}, "x2": {"datum": 187.09},
            "y": {"datum": 34.92}, "y2": {"datum": -4.73}
          }
        },
        {
          "data": {"name": "rs"},
          "mark": {"type": "line", "color": "#1c1c7a", "strokeWidth": 3, "interpolate": "monotone"},
          "encoding": {
            "x": {
              "field": "k", "type": "quantitative",
              "scale": {"domain": [0, 180], "nice": false},
              "axis": {
                "title": "k", "titleX": 543, "titleY": -20, "titleAngle": 0, "titleAlign": "left",
                "titleBaseline": "alphabetic", "titleFontSize": 15, "titleFontWeight": "bold", "titleColor": "#222222",
                "values": [0, 20, 40, 60, 80, 100, 120, 140, 160, 180],
                "labelAngle": 270, "labelAlign": "right", "labelBaseline": "middle",
                "labelFontSize": 13, "grid": true, "labelOverlap": false, "tickCount": 20
              }
            },
            "y": {
              "field": "rs", "type": "quantitative",
              "scale": {"domain": [0, 30], "nice": false},
              "axis": {
                "title": "R/s", "titleX": -4, "titleY": -12, "titleAngle": 0, "titleAlign": "left",
                "titleBaseline": "alphabetic", "titleFontSize": 15, "titleFontWeight": "bold", "titleColor": "#222222",
                "values": [0, 5, 10, 15, 20, 25, 30], "format": ".1f",
                "labelFontSize": 14, "grid": true, "labelOverlap": false, "tickCount": 20
              }
            }
          }
        }
      ]
    }
  ]
}
